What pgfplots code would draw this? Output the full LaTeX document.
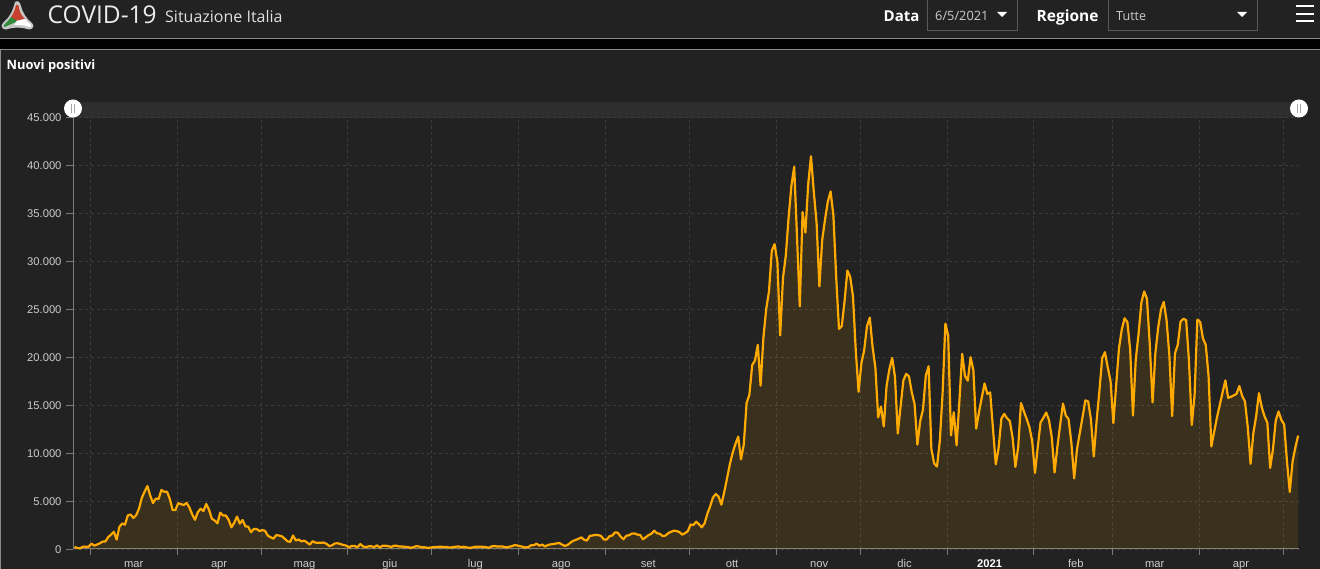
\documentclass[border=0pt]{standalone}
\usepackage{fontspec}
\setmainfont{Liberation Sans}
\newfontfamily\ui{Open Sans}
\usepackage{pgfplots}
\usepackage{pgfplotstable}
\pgfplotsset{compat=1.18}
\definecolor{panel}{HTML}{222222}
\definecolor{band}{HTML}{2E2E2E}
\definecolor{gridc}{HTML}{3C3C3C}
\definecolor{axisc}{HTML}{7A7A7A}
\definecolor{ticktxt}{HTML}{CCCCCC}
\definecolor{linec}{HTML}{FFAA00}
\definecolor{boxc}{HTML}{5A5A5A}
\definecolor{logored}{HTML}{C8402F}
\definecolor{logogreen}{HTML}{2E8B3A}
\newcommand{\fs}[1]{\fontsize{#1}{#1}\selectfont}

% new cases per day, 24 Feb 2020 to 6 May 2021
\pgfplotstableread[row sep=\\]{
v\\
221\\93\\78\\250\\238\\240\\
561\\347\\466\\587\\769\\778\\1247\\1492\\1797\\977\\2313\\2651\\2547\\3497\\3590\\3233\\3526\\4207\\5322\\5986\\6557\\5560\\4789\\5249\\5210\\6153\\5959\\5974\\5217\\4050\\4053\\
4782\\4668\\4585\\4805\\4316\\3599\\3039\\3836\\4204\\3951\\4694\\4092\\3153\\2972\\2667\\3786\\3493\\3491\\3047\\2256\\2729\\3370\\2646\\3021\\2357\\2324\\1739\\2091\\2086\\1872\\
1965\\1900\\1389\\1221\\1075\\1444\\1401\\1327\\1083\\802\\744\\1402\\888\\992\\789\\875\\675\\451\\813\\665\\642\\652\\669\\531\\300\\397\\584\\593\\516\\416\\355\\
178\\318\\321\\177\\518\\270\\197\\280\\283\\202\\379\\163\\346\\338\\301\\210\\329\\333\\251\\262\\224\\218\\122\\190\\296\\259\\175\\174\\126\\142\\
187\\201\\223\\235\\192\\208\\138\\193\\229\\276\\188\\234\\169\\114\\162\\230\\233\\249\\219\\190\\129\\282\\306\\252\\275\\255\\170\\212\\289\\386\\379\\
295\\239\\159\\190\\384\\402\\552\\347\\463\\259\\412\\481\\523\\574\\629\\479\\320\\403\\642\\845\\947\\1071\\1210\\953\\878\\1367\\1411\\1462\\1444\\1365\\996\\
978\\1326\\1397\\1733\\1695\\1297\\1008\\1370\\1434\\1597\\1616\\1501\\1458\\1008\\1229\\1452\\1585\\1907\\1638\\1587\\1350\\1392\\1640\\1786\\1912\\1869\\1766\\1494\\1648\\1851\\
2548\\2499\\2844\\2578\\2257\\2677\\3678\\4458\\5372\\5724\\5456\\4619\\5901\\7332\\8804\\10010\\10925\\11705\\9338\\10874\\15199\\16079\\19143\\19644\\21273\\17012\\21994\\24991\\26831\\31084\\31758\\
29907\\22253\\28244\\30550\\34505\\37809\\39811\\32616\\25271\\35098\\32961\\37978\\40902\\37255\\33979\\27354\\32191\\34282\\36176\\37242\\34767\\28337\\22927\\23232\\25853\\29003\\28352\\26323\\20648\\16377\\
19350\\20709\\23225\\24099\\21052\\18887\\13720\\14842\\12756\\16999\\18727\\19903\\17938\\12030\\14844\\17572\\18236\\17992\\16308\\15104\\10872\\13318\\14522\\18040\\19037\\10407\\8913\\8585\\11212\\16202\\23477\\
22211\\11831\\14245\\10800\\15378\\20331\\18020\\17533\\19978\\18627\\12532\\14242\\15774\\17246\\16146\\16310\\12545\\8824\\10497\\13571\\14078\\13633\\13331\\11629\\8561\\10593\\15204\\14372\\13574\\12715\\11252\\
7925\\10630\\13189\\13659\\14218\\13442\\11641\\7970\\10630\\12956\\15146\\13908\\13532\\11068\\7351\\10386\\12074\\13762\\15479\\15370\\13452\\9630\\13314\\16424\\19886\\20499\\18916\\17455\\
13114\\17083\\20884\\22865\\24036\\23641\\20765\\13902\\19749\\22409\\25673\\26824\\26062\\21315\\15267\\20396\\23059\\24935\\25735\\23832\\20159\\13846\\20396\\21267\\23696\\23987\\23839\\19611\\12916\\16017\\23904\\
23649\\21932\\21261\\18025\\10680\\12200\\13708\\15000\\16300\\17567\\15746\\15850\\16000\\16168\\16974\\15943\\15370\\12694\\8864\\12074\\13844\\16232\\14761\\13817\\13158\\8444\\10404\\13385\\14320\\13446\\
12965\\9148\\5948\\9116\\10585\\11807\\
}\newpos

\begin{document}
\begin{tikzpicture}[x=1pt,y=1pt]
\useasboundingbox (0,0) rectangle (1320,569);
\clip (0,0) rectangle (1320,569);
\fill[panel] (0,0) rectangle (1320,569);

% page furniture, y measured from the top
\begin{scope}[y=-1pt,yshift=569pt]
\fill[black] (0,39) rectangle (1320,49);
\draw[boxc!70,line width=1pt] (0,38.5) -- (1320,38.5);
\draw[boxc!70,line width=1pt] (0,49.5) -- (1320,49.5);
\draw[boxc!70,line width=1pt] (0.5,49.5) -- (0.5,569);
\fill[band] (73,102) rectangle (1299,118);

% logo
\fill[gray!45!white] (15,2) .. controls (18,0) and (20,2) .. (21,6) .. controls (23,14) and (27,19) .. (32,23)
  .. controls (35,26) and (33,29.5) .. (29,29.5) .. controls (22,27) and (14,27) .. (6,29.5)
  .. controls (2,29.5) and (0,26) .. (3,23) .. controls (9,18) and (13,11) .. (15,2) -- cycle;
\fill[logored] (16,5) .. controls (17,4) and (19,5) .. (19,8) .. controls (20,14) and (23,17) .. (25,19)
  -- (14,21) -- (11,17) .. controls (14,13) and (15,9) .. (16,5) -- cycle;
\fill[logogreen] (11,17) -- (17,21) .. controls (13,24) and (8,25) .. (5,27)
  .. controls (3,27) and (3,25) .. (5,24) .. controls (7,22) and (9,20) .. (11,17) -- cycle;
\fill[white] (17,21) -- (25,19) .. controls (27,21) and (29,23) .. (31,25) .. controls (32,27) and (30,27) .. (29,27)
  .. controls (24,25) and (20,25) .. (14,25) -- cycle;

% header text
\node[anchor=base west,inner sep=0pt,text=white!92!black] at (47.5,24) {\ui\fs{24.5}COVID-19};
\node[anchor=base west,inner sep=0pt,text=white!88!black] at (165,23) {\ui\fs{16}Situazione Italia};
\node[anchor=base west,inner sep=0pt,text=white] at (883.5,21.5) {\ui\bfseries\fs{15}Data};
\node[anchor=base west,inner sep=0pt,text=white] at (1036.5,21.5) {\ui\bfseries\fs{15.5}Regione};
\draw[boxc,line width=1pt] (927.5,-2) rectangle (1017.5,30.5);
\draw[boxc,line width=1pt] (1108.5,-2) rectangle (1257.5,30.5);
\node[anchor=base west,inner sep=0pt,text=ticktxt] at (935,20.5) {\ui\fs{12.8}6/5/2021};
\node[anchor=base west,inner sep=0pt,text=ticktxt] at (1116,20.5) {\ui\fs{12.6}Tutte};
\fill[white] (997,12) -- (1007,12) -- (1002,17) -- cycle;
\fill[white] (1237,12) -- (1247,12) -- (1242,17) -- cycle;
\foreach \yy in {6.5,14,21.5} \fill[white] (1296,\yy-1) rectangle (1314,\yy+1);
\node[anchor=base west,inner sep=0pt,text=white] at (6.5,70) {\ui\bfseries\fs{12.9}Nuovi positivi};
\end{scope}

\begin{axis}[
    at={(73pt,20pt)},
    anchor=south west,
    scale only axis,
    width=1226pt,
    height=432pt,
    xmin=-0.18, xmax=437.7,
    ymin=0, ymax=45000,
    axis lines=left,
    axis line style={-,draw=axisc,line width=1pt},
    xtick={21.5,52,82.5,113,143.5,174.2,205.3,235.2,266.3,296.8,327.2,358,386.2,417},
    xticklabels={mar,apr,mag,giu,lug,ago,set,ott,nov,dic,\textbf{\textcolor{white}{2021}},feb,mar,apr},
    minor xtick={6,37,67,98,128,159,190,220,251,281,312,343,371,402,432},
    xminorgrids,
    minor grid style={gridc,dashed,line width=0.8pt},
    ymajorgrids,
    major grid style={gridc,dashed,line width=0.8pt},
    ytick={0,5000,...,45000},
    tick align=outside,
    major tick length=7pt,
    minor tick length=6pt,
    tick style={draw=axisc,line width=0.8pt},
    major x tick style={draw=none},
    ticklabel style={font=\fs{11.2},text=ticktxt},
    xticklabel style={text height=8pt,text depth=2pt,yshift=-0.3pt},
    yticklabel style={xshift=-1pt,yshift=-0.5pt,/pgf/number format/.cd,1000 sep={.}},
    scaled y ticks=false,
    /pgf/number format/assume math mode=true,
    clip=false,
]
\addplot[draw=none,fill=linec,fill opacity=0.11] table[x expr=\coordindex+0.4,y=v] {\newpos} \closedcycle;
\addplot[linec,line width=2.2pt,line join=round] table[x expr=\coordindex+0.4,y=v] {\newpos};
\end{axis}

% range slider handles
\begin{scope}[y=-1pt,yshift=569pt]
\foreach \hx in {73,1299} {
  \fill[white] (\hx,108.5) circle (9);
  \draw[gray!70,line width=0.7pt] (\hx-1.5,104) -- (\hx-1.5,113) (\hx+1.5,104) -- (\hx+1.5,113);
}
\end{scope}
\end{tikzpicture}
\end{document}
